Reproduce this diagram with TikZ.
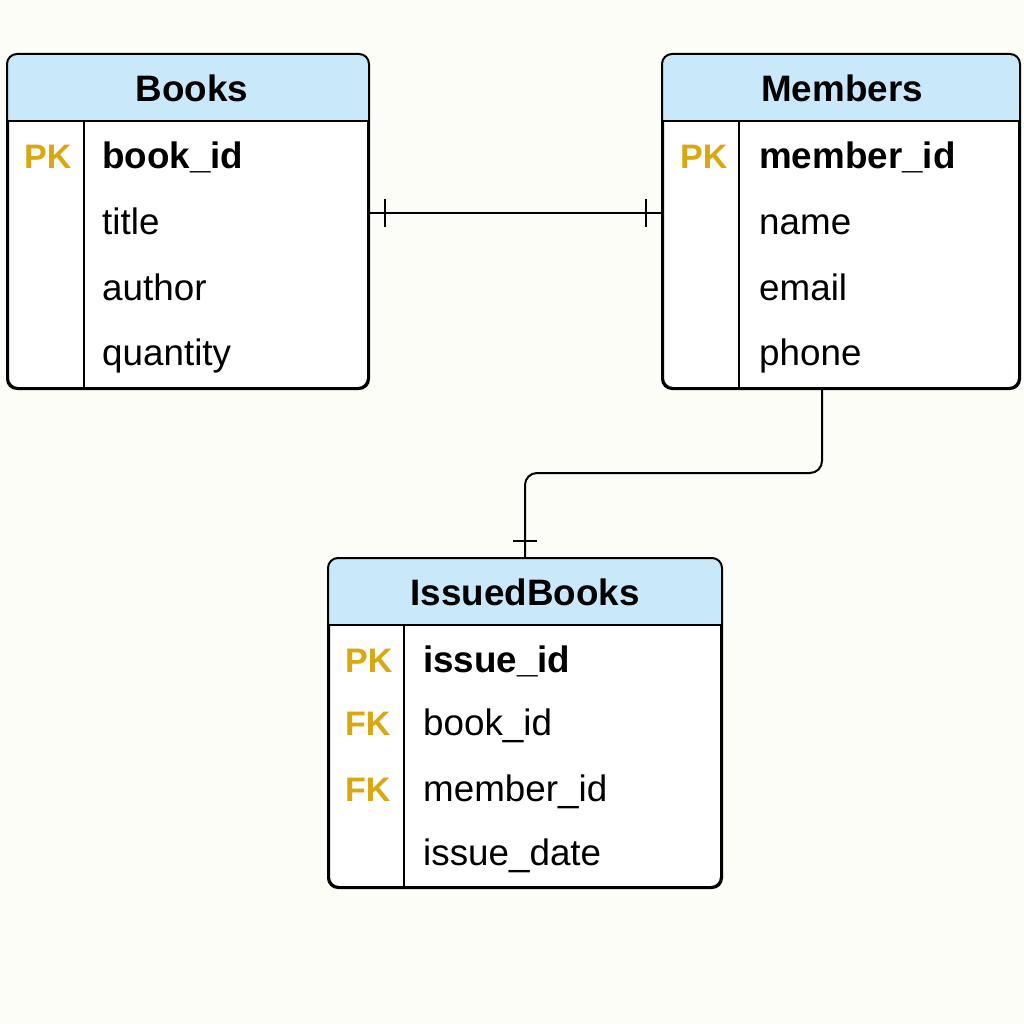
\documentclass[tikz,border=0pt]{standalone}
\usepackage{fontspec}
\setmainfont{Liberation Sans}
\usetikzlibrary{calc}
\definecolor{bgc}{HTML}{FDFDF7}
\definecolor{hdr}{HTML}{C9E8FA}
\definecolor{keyc}{HTML}{D9A70F}
\tikzset{
  tbl/.style={draw=black, line width=2pt, rounded corners=10pt, fill=white, inner sep=0pt},
  sep/.style={draw=black, line width=2pt},
  conn/.style={draw=black, line width=2pt},
  tick/.style={draw=black, line width=1.6pt},
  title/.style={anchor=base, inner sep=0pt, font=\fontsize{36.8}{40}\selectfont\bfseries},
  fld/.style={anchor=base west, inner sep=0pt, font=\fontsize{36.8}{40}\selectfont},
  pkf/.style={anchor=base west, inner sep=0pt, font=\fontsize{36.8}{40}\selectfont\bfseries},
  keyl/.style={anchor=base west, inner sep=0pt, text=keyc, font=\fontsize{34}{40}\selectfont\bfseries},
}
\begin{document}
\begin{tikzpicture}[x=1pt, y=-1pt]
\fill[bgc] (0,0) rectangle (1024,1024);
\useasboundingbox (0,0) rectangle (1024,1024);

% ---------- Books ----------
\node[tbl, minimum width=360pt, minimum height=333pt] (books) at (188,221.5) {};
\begin{scope}
  \clip[rounded corners=10pt] (books.north west) rectangle (books.south east);
  \fill[hdr] (books.north west) rectangle (368,121);
\end{scope}
\draw[tbl, fill=none] (books.north west) rectangle (books.south east);
\draw[sep] (8,121) -- (368,121);
\draw[sep] (84,121) -- (84,388);
\node[title] (books-h) at (192,102) {Books};
\node[keyl] (books-pk) at (24,169) {PK};
\node[pkf] (books-f1) at (102,169) {book\_id};
\node[fld] (books-f2) at (102,234) {title};
\node[fld] (books-f3) at (102,300) {author};
\node[fld] (books-f4) at (102,365) {quantity};

% ---------- Members ----------
\node[tbl, minimum width=356pt, minimum height=333pt] (members) at (841,221.5) {};
\begin{scope}
  \clip[rounded corners=10pt] (members.north west) rectangle (members.south east);
  \fill[hdr] (members.north west) rectangle (1019,121);
\end{scope}
\draw[tbl, fill=none] (members.north west) rectangle (members.south east);
\draw[sep] (663,121) -- (1019,121);
\draw[sep] (739,121) -- (739,388);
\node[title] (members-h) at (842,102) {Members};
\node[keyl] (members-pk) at (680,169) {PK};
\node[pkf] (members-f1) at (759,169) {member\_id};
\node[fld] (members-f2) at (759,234) {name};
\node[fld] (members-f3) at (759,300) {email};
\node[fld] (members-f4) at (759,365) {phone};

% ---------- IssuedBooks ----------
\node[tbl, minimum width=392pt, minimum height=328pt] (issued) at (525,723) {};
\begin{scope}
  \clip[rounded corners=10pt] (issued.north west) rectangle (issued.south east);
  \fill[hdr] (issued.north west) rectangle (721,625);
\end{scope}
\draw[tbl, fill=none] (issued.north west) rectangle (issued.south east);
\draw[sep] (329,625) -- (721,625);
\draw[sep] (404,625) -- (404,887);
\node[title] (issued-h) at (525,605) {IssuedBooks};
\node[keyl] (issued-pk) at (345,672) {PK};
\node[keyl] (issued-fk1) at (345,735) {FK};
\node[keyl] (issued-fk2) at (345,801) {FK};
\node[pkf] (issued-f1) at (423,672) {issue\_id};
\node[fld] (issued-f2) at (423,735) {book\_id};
\node[fld] (issued-f3) at (423,801) {member\_id};
\node[fld] (issued-f4) at (423,865) {issue\_date};

% ---------- connectors ----------
\coordinate (r1) at (0,213);
\coordinate (m1) at (822,0);
\coordinate (bend) at (0,473);
\draw[conn] (books.east |- r1) -- (members.west |- r1);
\draw[tick] ($(books.east |- r1)+(16,-14)$) -- ($(books.east |- r1)+(16,14)$);
\draw[tick] ($(members.west |- r1)+(-16,-14)$) -- ($(members.west |- r1)+(-16,14)$);

\draw[conn, rounded corners=12pt] (members.south -| m1) |- (issued.north |- bend) -- (issued.north);
\draw[tick] ($(issued.north)+(-12,-17)$) -- ($(issued.north)+(12,-17)$);
\end{tikzpicture}
\end{document}
